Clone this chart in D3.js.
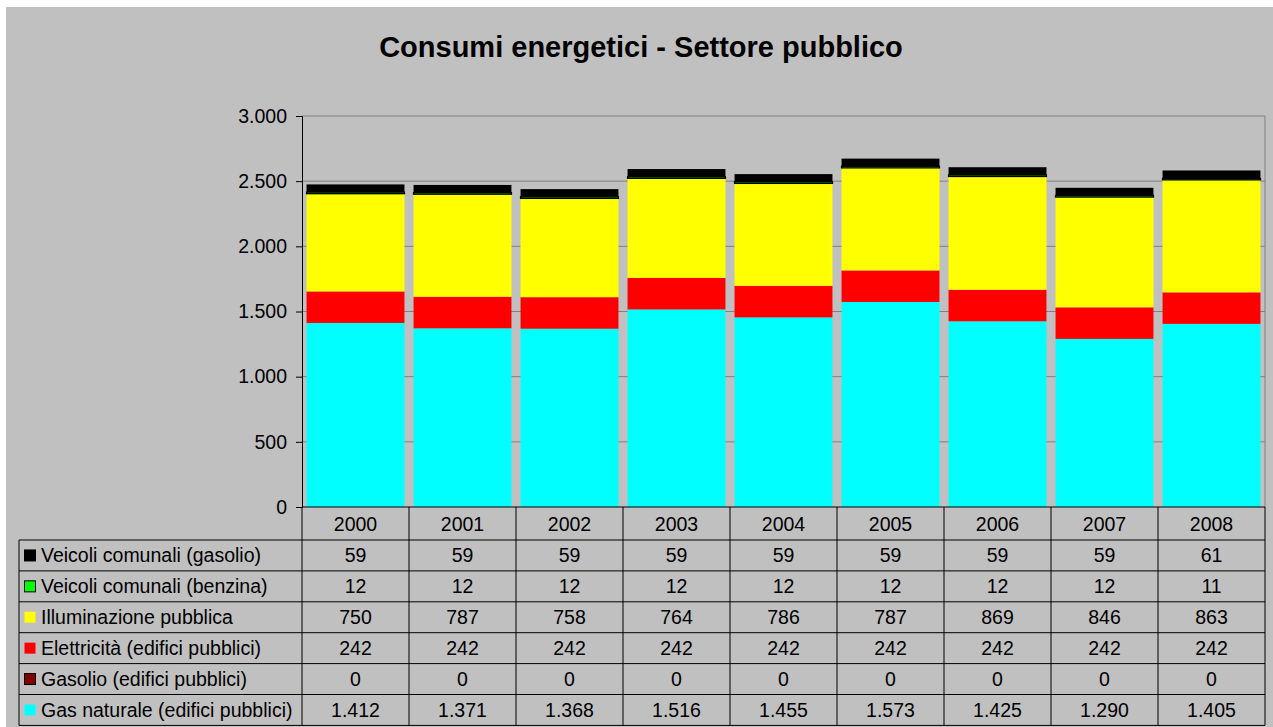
<!DOCTYPE html>
<html>
<head>
<meta charset="utf-8">
<script src="https://cdn.jsdelivr.net/npm/d3@7"></script>
<style>
  body { margin: 0; background: #fff; }
  text { font-family: "Liberation Sans", Arial, sans-serif; }
</style>
</head>
<body>
<script>
// data
var years = ["2000", "2001", "2002", "2003", "2004", "2005", "2006", "2007", "2008"];
var gasNaturale = [1412, 1371, 1368, 1516, 1455, 1573, 1425, 1290, 1405];
var gasolioEdifici = [0, 0, 0, 0, 0, 0, 0, 0, 0];
var elettricita = [242, 242, 242, 242, 242, 242, 242, 242, 242];
var illuminazione = [750, 787, 758, 764, 786, 787, 869, 846, 863];
var benzina = [12, 12, 12, 12, 12, 12, 12, 12, 11];
var gasolioVeicoli = [59, 59, 59, 59, 59, 59, 59, 59, 61];
var yTicks = [0, 500, 1000, 1500, 2000, 2500, 3000];

// stack order bottom -> top
var series = [
  {name: "Gas naturale (edifici pubblici)", values: gasNaturale, color: "#00ffff"},
  {name: "Gasolio (edifici pubblici)", values: gasolioEdifici, color: "#800000"},
  {name: "Elettricità (edifici pubblici)", values: elettricita, color: "#ff0000"},
  {name: "Illuminazione pubblica", values: illuminazione, color: "#ffff00"},
  {name: "Veicoli comunali (benzina)", values: benzina, color: "#00ff00"},
  {name: "Veicoli comunali (gasolio)", values: gasolioVeicoli, color: "#000000"}
];

var W = 1273, H = 727;
var plot = {left: 302, top: 116, right: 1265, bottom: 507};
var headerH = 33, rowH = 30.9, tableLeft = 19;
var fs = "19.5px";

var it = d3.formatLocale({decimal: ",", thousands: ".", grouping: [3], currency: ["€", ""]});
var fmt = it.format(",d");

var svg = d3.select("body").append("svg")
    .attr("width", W)
    .attr("height", H);

svg.append("rect")
    .attr("x", 6).attr("y", 7)
    .attr("width", W - 6).attr("height", H - 7)
    .attr("fill", "#c0c0c0");

svg.append("text")
    .attr("x", 641).attr("y", 57)
    .attr("text-anchor", "middle")
    .attr("font-size", "29px")
    .attr("font-weight", "bold")
    .text("Consumi energetici - Settore pubblico");

var x = d3.scaleBand()
    .domain(years)
    .range([plot.left, plot.right])
    .paddingInner(0.085)
    .paddingOuter(0.0425);

var xCol = d3.scaleBand()
    .domain(years)
    .range([plot.left, plot.right]);

var y = d3.scaleLinear()
    .domain([0, 3000])
    .range([plot.bottom, plot.top]);

// gridlines
svg.append("g")
    .selectAll("line")
    .data(yTicks.slice(1))
    .enter().append("line")
    .attr("x1", plot.left).attr("x2", plot.right)
    .attr("y1", d => y(d)).attr("y2", d => y(d))
    .attr("stroke", "#808080")
    .attr("stroke-width", 1);

svg.append("line")
    .attr("x1", plot.right).attr("x2", plot.right)
    .attr("y1", plot.top).attr("y2", plot.bottom)
    .attr("stroke", "#808080");

// stacked bars
var stackData = years.map(function(yr, i) {
  var o = {year: yr};
  series.forEach(function(s) { o[s.name] = s.values[i]; });
  return o;
});
var stack = d3.stack().keys(series.map(s => s.name));
var layers = stack(stackData);

svg.append("g")
    .selectAll("g")
    .data(layers)
    .enter().append("g")
    .attr("fill", (d, i) => series[i].color)
    .attr("stroke", (d, i) => series[i].color === "#00ff00" ? "#000" : "none")
    .attr("stroke-width", 1.3)
    .selectAll("rect")
    .data(d => d)
    .enter().append("rect")
    .attr("x", d => x(d.data.year))
    .attr("y", d => y(d[1]))
    .attr("width", x.bandwidth())
    .attr("height", d => y(d[0]) - y(d[1]));

// y axis
var yAxis = svg.append("g")
    .attr("transform", "translate(" + plot.left + ",0)")
    .call(d3.axisLeft(y).tickValues(yTicks).tickFormat(fmt).tickSize(6).tickPadding(9));
yAxis.select(".domain").attr("stroke", "#000");
yAxis.selectAll(".tick line").attr("stroke", "#000");
yAxis.selectAll("text")
    .attr("font-size", fs)
    .attr("font-family", "'Liberation Sans', Arial, sans-serif")
    .attr("fill", "#000");

// data table
var table = svg.append("g");
var rows = series.slice().reverse();
var tableTop = plot.bottom + headerH;
var tableBottom = tableTop + rows.length * rowH;

// header cells (years)
table.selectAll(".yr")
    .data(years)
    .enter().append("text")
    .attr("class", "yr")
    .attr("x", d => xCol(d) + xCol.bandwidth() / 2)
    .attr("y", plot.bottom + headerH / 2 + 7)
    .attr("text-anchor", "middle")
    .attr("font-size", fs)
    .text(d => d);

// horizontal lines
table.append("line")
    .attr("x1", plot.left).attr("x2", plot.right)
    .attr("y1", plot.bottom).attr("y2", plot.bottom)
    .attr("stroke", "#000");
table.selectAll(".hl")
    .data(d3.range(rows.length + 1))
    .enter().append("line")
    .attr("class", "hl")
    .attr("x1", tableLeft).attr("x2", plot.right)
    .attr("y1", d => tableTop + d * rowH).attr("y2", d => tableTop + d * rowH)
    .attr("stroke", "#000");

// vertical lines
var vx = years.map(d => xCol(d)).concat([plot.right]);
table.selectAll(".vl")
    .data(vx)
    .enter().append("line")
    .attr("class", "vl")
    .attr("x1", d => d).attr("x2", d => d)
    .attr("y1", plot.bottom).attr("y2", tableBottom)
    .attr("stroke", "#000");
table.append("line")
    .attr("x1", tableLeft).attr("x2", tableLeft)
    .attr("y1", tableTop).attr("y2", tableBottom)
    .attr("stroke", "#000");

var row = table.selectAll(".row")
    .data(rows)
    .enter().append("g")
    .attr("class", "row")
    .attr("transform", (d, i) => "translate(0," + (tableTop + i * rowH) + ")");

row.append("rect")
    .attr("x", 24.5).attr("y", rowH / 2 - 5.5)
    .attr("width", 11).attr("height", 11)
    .attr("fill", d => d.color)
    .attr("stroke", d => (d.color === "#ffff00" || d.color === "#ff0000" || d.color === "#00ffff") ? "none" : "#000")
    .attr("stroke-width", 1);

row.append("text")
    .attr("x", 41)
    .attr("y", rowH / 2 + 7)
    .attr("font-size", fs)
    .text(d => d.name);

row.selectAll(".val")
    .data(d => d.values)
    .enter().append("text")
    .attr("class", "val")
    .attr("x", (d, i) => xCol(years[i]) + xCol.bandwidth() / 2)
    .attr("y", rowH / 2 + 7)
    .attr("text-anchor", "middle")
    .attr("font-size", fs)
    .text(d => fmt(d));
</script>
</body>
</html>
